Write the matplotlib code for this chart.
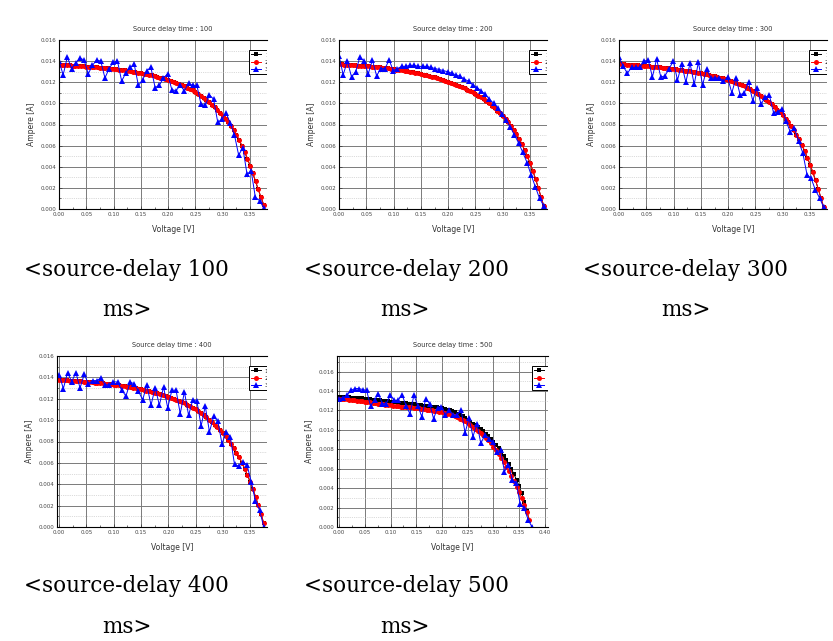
import numpy as np
import matplotlib
matplotlib.use("Agg")
import matplotlib.pyplot as plt
from matplotlib.ticker import MultipleLocator, FormatStrFormatter

W, H = 833, 641

# voltage sweep (V); red/black every 5 mV, blue every ~7.7 mV
v_fine = np.arange(76) * 0.005
v_blue = np.linspace(0, 0.375, 50)

# currents, in mA
red_100 = [13.66, 13.65, 13.63, 13.62, 13.60, 13.58, 13.57, 13.55, 13.53, 13.51,
           13.49, 13.47, 13.45, 13.43, 13.41, 13.39, 13.37, 13.35, 13.32, 13.29,
           13.26, 13.23, 13.20, 13.17, 13.13, 13.09, 13.05, 13.01, 12.96, 12.91,
           12.86, 12.81, 12.76, 12.70, 12.64, 12.58, 12.51, 12.44, 12.36, 12.28,
           12.20, 12.11, 12.02, 11.92, 11.82, 11.72, 11.61, 11.50, 11.38, 11.22,
           11.05, 10.88, 10.70, 10.51, 10.30, 10.09, 9.87, 9.63, 9.39, 9.13,
           8.85, 8.55, 8.22, 7.86, 7.46, 7.02, 6.53, 5.99, 5.40, 4.77,
           4.10, 3.38, 2.62, 1.85, 1.10, 0.40]
blue_100 = [14.0, 12.7, 14.4, 13.3, 13.8, 14.3, 14.1, 12.8, 13.6, 14.1,
            14.0, 12.4, 13.3, 13.9, 14.0, 12.1, 12.9, 13.4, 13.7, 11.7,
            12.2, 13.1, 13.4, 11.5, 11.7, 12.4, 12.8, 11.3, 11.2, 11.7,
            11.2, 11.9, 11.7, 11.7, 9.9, 9.8, 10.8, 10.4, 8.2, 8.5,
            9.1, 8.1, 7.0, 5.1, 5.8, 3.3, 3.6, 1.1, 0.8, 0.1]

red_200 = [13.72, 13.70, 13.68, 13.66, 13.64, 13.62, 13.60, 13.58, 13.56, 13.54,
           13.52, 13.50, 13.48, 13.46, 13.43, 13.40, 13.37, 13.34, 13.31, 13.28,
           13.24, 13.20, 13.16, 13.12, 13.08, 13.04, 13.00, 12.95, 12.90, 12.84,
           12.78, 12.72, 12.66, 12.60, 12.53, 12.46, 12.39, 12.31, 12.23, 12.15,
           12.06, 11.97, 11.87, 11.77, 11.66, 11.55, 11.43, 11.31, 11.18, 11.04,
           10.89, 10.73, 10.56, 10.38, 10.19, 9.99, 9.78, 9.56, 9.32, 9.07,
           8.80, 8.51, 8.20, 7.86, 7.49, 7.08, 6.63, 6.13, 5.58, 4.98,
           4.33, 3.62, 2.85, 2.02, 1.15, 0.30]
blue_200 = [14.5, 12.7, 14.0, 12.5, 13.0, 14.4, 14.0, 12.8, 14.1, 12.6,
            13.3, 13.3, 14.1, 13.1, 13.3, 13.5, 13.5, 13.6, 13.6, 13.5,
            13.5, 13.5, 13.4, 13.3, 13.2, 13.1, 13.0, 12.85, 12.7, 12.55,
            12.3, 12.1, 11.75, 11.5, 11.2, 10.85, 10.4, 10.0, 9.55, 9.0,
            8.4, 7.75, 7.0, 6.25, 5.35, 4.4, 3.2, 2.1, 1.0, 0.3]

red_300 = [13.74, 13.72, 13.70, 13.68, 13.66, 13.64, 13.62, 13.60, 13.57, 13.55,
           13.52, 13.50, 13.47, 13.45, 13.42, 13.40, 13.37, 13.34, 13.31, 13.28,
           13.25, 13.22, 13.18, 13.15, 13.11, 13.07, 13.03, 12.99, 12.95, 12.90,
           12.85, 12.80, 12.75, 12.69, 12.63, 12.57, 12.50, 12.43, 12.36, 12.28,
           12.20, 12.11, 12.02, 11.92, 11.82, 11.71, 11.60, 11.48, 11.35, 11.21,
           11.06, 10.90, 10.72, 10.53, 10.33, 10.12, 9.90, 9.66, 9.41, 9.14,
           8.86, 8.56, 8.23, 7.87, 7.48, 7.05, 6.58, 6.06, 5.49, 4.87,
           4.20, 3.48, 2.71, 1.89, 1.02, 0.15]
blue_300 = [14.4, 13.5, 12.85, 13.4, 13.4, 13.4, 14.0, 14.1, 12.5, 14.2,
            12.5, 12.6, 13.3, 14.0, 12.2, 13.7, 12.0, 13.8, 11.8, 13.9,
            11.75, 13.25, 12.4, 12.4, 12.4, 12.1, 12.45, 11.0, 12.4, 10.8,
            11.0, 12.0, 10.25, 11.5, 9.9, 10.6, 10.75, 9.1, 9.2, 9.5,
            8.3, 7.3, 7.65, 6.4, 5.3, 3.25, 2.9, 1.8, 1.05, 0.15]

red_400 = [13.78, 13.76, 13.74, 13.72, 13.70, 13.68, 13.66, 13.64, 13.62, 13.60,
           13.58, 13.56, 13.53, 13.51, 13.48, 13.46, 13.43, 13.40, 13.37, 13.34,
           13.31, 13.28, 13.24, 13.20, 13.16, 13.12, 13.08, 13.03, 12.98, 12.93,
           12.88, 12.83, 12.77, 12.71, 12.65, 12.58, 12.51, 12.44, 12.36, 12.28,
           12.20, 12.11, 12.02, 11.92, 11.81, 11.70, 11.58, 11.45, 11.31, 11.16,
           11.00, 10.83, 10.65, 10.46, 10.26, 10.05, 9.83, 9.59, 9.34, 9.07,
           8.78, 8.47, 8.14, 7.78, 7.39, 6.97, 6.51, 6.01, 5.46, 4.87,
           4.24, 3.56, 2.83, 2.05, 1.22, 0.35]
blue_400 = [14.25, 12.95, 14.45, 13.6, 14.45, 13.0, 14.3, 13.4, 13.7, 13.7,
            13.95, 13.3, 13.3, 13.6, 13.55, 12.8, 12.25, 13.55, 13.4, 12.7,
            11.9, 13.3, 11.4, 13.05, 11.4, 13.1, 11.15, 12.8, 12.8, 10.6,
            12.65, 10.45, 11.9, 11.75, 9.45, 11.3, 8.9, 10.35, 9.9, 7.8,
            8.9, 8.45, 5.85, 5.7, 6.1, 5.8, 4.25, 2.45, 1.6, 0.0]

black_500 = [13.42, 13.40, 13.38, 13.36, 13.34, 13.32, 13.30, 13.28, 13.26, 13.24,
             13.21, 13.18, 13.15, 13.12, 13.09, 13.06, 13.03, 13.00, 12.97, 12.94,
             12.90, 12.87, 12.84, 12.81, 12.78, 12.75, 12.72, 12.69, 12.66, 12.63,
             12.60, 12.57, 12.54, 12.50, 12.46, 12.42, 12.38, 12.34, 12.30, 12.27,
             12.24, 12.17, 12.09, 12.00, 11.91, 11.80, 11.68, 11.54, 11.38, 11.20,
             11.00, 10.83, 10.65, 10.47, 10.28, 10.08, 9.86, 9.62, 9.36, 9.09,
             8.80, 8.45, 8.08, 7.70, 7.30, 6.88, 6.44, 5.96, 5.42, 4.84,
             4.20, 3.45, 2.60, 1.65, 0.60]
red_500 = [13.22, 13.19, 13.16, 13.13, 13.10, 13.07, 13.04, 13.01, 12.98, 12.95,
           12.91, 12.87, 12.83, 12.79, 12.75, 12.71, 12.67, 12.63, 12.59, 12.55,
           12.51, 12.48, 12.45, 12.42, 12.39, 12.36, 12.34, 12.32, 12.30, 12.28,
           12.25, 12.21, 12.17, 12.13, 12.09, 12.05, 12.01, 11.96, 11.91, 11.86,
           11.80, 11.73, 11.66, 11.58, 11.49, 11.39, 11.28, 11.16, 11.03, 10.88,
           10.70, 10.52, 10.33, 10.13, 9.92, 9.70, 9.46, 9.20, 8.92, 8.60,
           8.25, 7.88, 7.49, 7.08, 6.65, 6.20, 5.73, 5.23, 4.70, 4.15,
           3.58, 2.95, 2.25, 1.50, 0.75]
blue_500 = [13.2, 13.3, 13.55, 14.05, 14.25, 14.25, 14.15, 14.05, 12.45, 13.05,
            13.7, 12.7, 12.7, 13.55, 13.05, 13.05, 13.6, 12.5, 11.65, 13.55,
            12.5, 11.35, 13.2, 12.7, 11.15, 12.25, 12.35, 11.5, 12.0, 11.5,
            11.55, 12.0, 9.7, 11.2, 9.3, 10.65, 8.6, 9.45, 9.1, 8.75,
            7.75, 7.9, 5.7, 6.4, 4.85, 4.5, 2.35, 1.95, 0.75, 0.0]

delays = [100, 200, 300, 400, 500]
blacks = [red_100, red_200, red_300, red_400, black_500]
reds = [red_100, red_200, red_300, red_400, red_500]
blues = [blue_100, blue_200, blue_300, blue_400, blue_500]
# legend entries sit past the cropped right edge of each panel
series_names = ["1", "2", "3"]

# panel boxes in pixels: left, top, right, bottom, xmax, ymax, xmin
boxes = [(59, 40, 267, 209, 0.381, 0.016, 0.0),
         (339, 40, 547, 209, 0.381, 0.016, 0.0),
         (619, 40, 827, 209, 0.381, 0.016, 0.0),
         (57, 356, 267, 527, 0.381, 0.016, -0.004),
         (337, 356, 548, 527, 0.406, 0.0176, -0.004)]
# caption positions: line-1 left x, baseline y, line-2 centre x, baseline y
captions = [(24, 276, 127, 316), (304, 276, 405, 316), (583, 276, 686, 316),
            (24, 592, 127, 633), (304, 592, 405, 633)]

fig = plt.figure(figsize=(W / 100, H / 100), dpi=100)

for i, d in enumerate(delays):
    l, t, r, b, xmax, ymax, xmin = boxes[i]
    ax = fig.add_axes([l / W, 1 - b / H, (r - l) / W, (b - t) / H])
    vb = v_fine[:len(blacks[i])]
    vr = v_fine[:len(reds[i])]
    p1, = ax.plot(vb, np.array(blacks[i]) * 1e-3, color="black", marker="s",
                  ms=3.4, lw=0.7, mew=0)
    p2, = ax.plot(vr, np.array(reds[i]) * 1e-3, color="red", marker="o",
                  ms=3.6, lw=0.7, mew=0)
    p3, = ax.plot(v_blue, np.array(blues[i]) * 1e-3, color="blue", marker="^",
                  ms=4.8, lw=0.7, mew=0)

    ax.set_xlim(xmin, xmax)
    ax.set_ylim(0, ymax)
    ax.xaxis.set_major_locator(MultipleLocator(0.05))
    ax.xaxis.set_minor_locator(MultipleLocator(0.025))
    ax.yaxis.set_major_locator(MultipleLocator(0.002))
    ax.yaxis.set_minor_locator(MultipleLocator(0.001))
    ax.xaxis.set_major_formatter(FormatStrFormatter("%.2f"))
    ax.yaxis.set_major_formatter(FormatStrFormatter("%.3f"))
    ax.grid(which="major", color="#7a7a7a", lw=0.7, ls="-")
    ax.grid(which="minor", axis="y", color="#b8b8b8", lw=0.5, ls=":")
    ax.set_axisbelow(True)
    ax.tick_params(which="both", direction="in", labelsize=4, colors="#333333",
                   pad=2, width=0.5)
    ax.tick_params(which="major", length=2)
    ax.tick_params(which="minor", length=1.2)
    ax.tick_params(axis="both", labelcolor="#444444")
    ax.spines["right"].set_visible(False)
    for s in ("left", "bottom", "top"):
        ax.spines[s].set_linewidth(0.8)

    ax.set_xlabel("Voltage [V]", fontsize=5.5, color="#333333")
    ax.set_ylabel("Ampere [A]", fontsize=5.5, color="#333333")
    xc = (173 - 59) / 208
    ax.xaxis.set_label_coords(xc, -0.095)
    ax.yaxis.set_label_coords(-0.11 * 208 / (r - l), 0.5)
    ax.text(xc, 1 + 11 / (b - t), "Source delay time : %d" % d, transform=ax.transAxes,
            ha="center", va="center", fontsize=4.8, color="#333333")

    leg_x = (249 - 59) / 208 if i < 4 else (532 - 337) / 211
    leg_y = (b - t - 10) / (b - t)
    leg = ax.legend([p1, p2, p3], series_names, loc="upper left",
                    bbox_to_anchor=(leg_x, leg_y), fontsize=4.5, frameon=True,
                    fancybox=False, edgecolor="black", framealpha=1,
                    handlelength=1.6, borderpad=0.35, labelspacing=0.3,
                    handletextpad=0.6, borderaxespad=0)
    leg.get_frame().set_linewidth(0.7)
    # the source images were cropped at the right edge of the plot
    for a in leg.findobj():
        a.set_clip_on(True)
        a.set_clip_box(ax.bbox)

    x1, y1, x2, y2 = captions[i]
    fig.text(x1 / W, 1 - y1 / H, "<source-delay %d" % d, ha="left", va="baseline",
             fontsize=15.5, family="DejaVu Serif", color="black")
    fig.text(x2 / W, 1 - y2 / H, "ms>", ha="center", va="baseline",
             fontsize=15.5, family="DejaVu Serif", color="black")

fig.savefig("out.png", dpi=100)
